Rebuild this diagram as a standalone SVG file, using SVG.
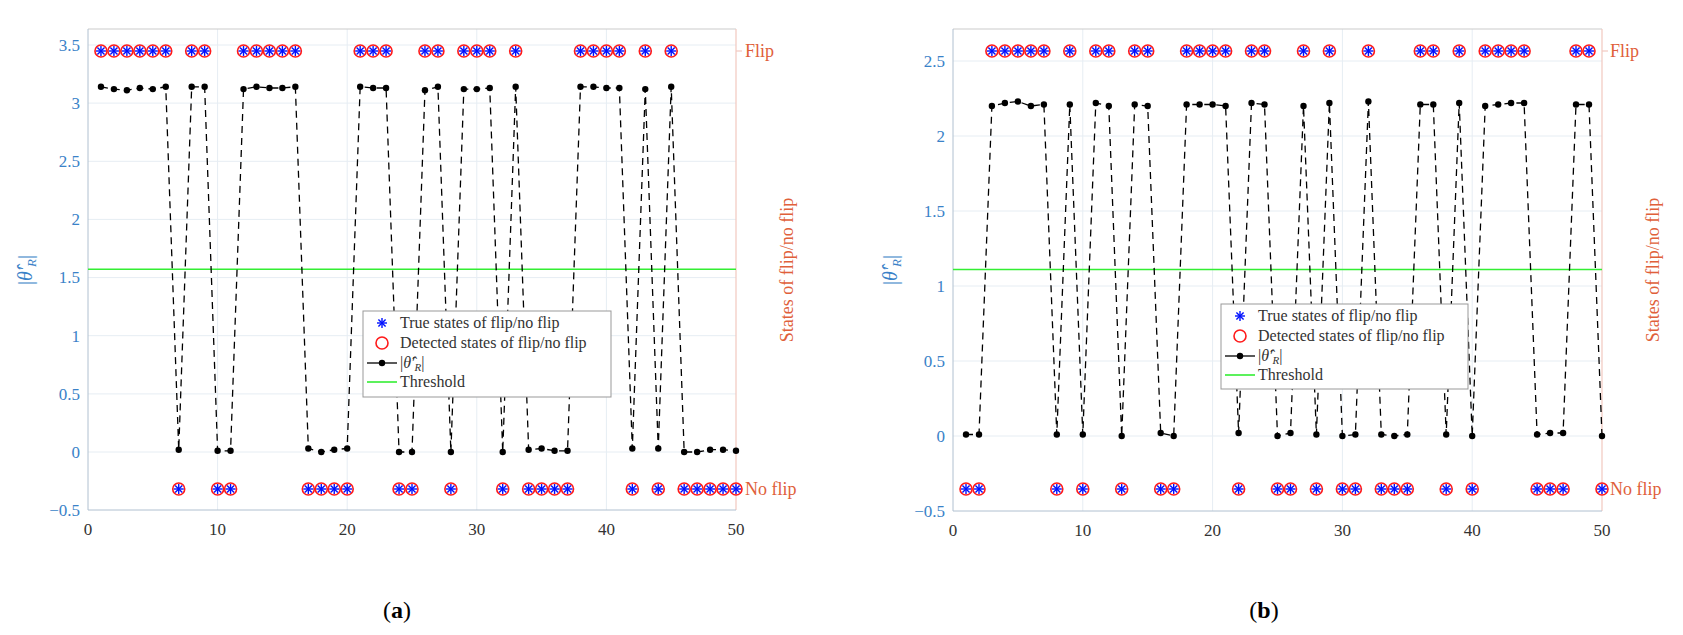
<svg xmlns="http://www.w3.org/2000/svg" width="1683" height="635" viewBox="0 0 1683 635" font-family="'Liberation Serif', 'DejaVu Serif', serif">
<style>
.yt,.xt,.rl,.lt,.cap,.yl{font-family:"Liberation Serif","DejaVu Serif",serif}
.grid{stroke:#e6edf3;stroke-width:1}
.ax{fill:none;stroke:#b0c0d0;stroke-width:1}
.rax{stroke:#f2c8bf;stroke-width:1.2}
.top{stroke:#cccccc;stroke-width:1.2}
.yt{font-size:17px;fill:#3a82c8;text-anchor:end}
.xt{font-size:17px;fill:#333;text-anchor:middle}
.rl{font-size:18px;fill:#e0603a}
.yl{font-size:20px;fill:#3a82c8;text-anchor:middle}
.data{fill:none;stroke:#000;stroke-width:1.3;stroke-dasharray:7 5;marker-start:url(#dot);marker-mid:url(#dot);marker-end:url(#dot)}
.thr{stroke:#33ee33;stroke-width:1.6}
.leg{fill:#fff;stroke:#999;stroke-width:1}
.lt{font-size:16px;fill:#333}
.cap{font-size:24px;fill:#000;text-anchor:middle}
</style>
<defs>
<marker id="dot" markerUnits="userSpaceOnUse" markerWidth="8" markerHeight="8" refX="4" refY="4"><circle cx="4" cy="4" r="3.2" fill="#000"/></marker>
<g id="mk">
<circle r="6" fill="none" stroke="#ff1a1a" stroke-width="1.6"/>
<g stroke="#0010ff" stroke-width="1.4"><line x1="-5" y1="0" x2="5" y2="0"/><line x1="0" y1="-5" x2="0" y2="5"/><line x1="-3.6" y1="-3.6" x2="3.6" y2="3.6"/><line x1="-3.6" y1="3.6" x2="3.6" y2="-3.6"/></g>
</g>
<g id="star" stroke="#0010ff" stroke-width="1.4"><line x1="-5" y1="0" x2="5" y2="0"/><line x1="0" y1="-5" x2="0" y2="5"/><line x1="-3.6" y1="-3.6" x2="3.6" y2="3.6"/><line x1="-3.6" y1="3.6" x2="3.6" y2="-3.6"/></g>
</defs>
<rect width="1683" height="635" fill="#fff"/>

<g id="plot-a">
<g class="grid">
<line x1="217.6" y1="29" x2="217.6" y2="510"/><line x1="347.2" y1="29" x2="347.2" y2="510"/><line x1="476.8" y1="29" x2="476.8" y2="510"/><line x1="606.4" y1="29" x2="606.4" y2="510"/>
<line x1="88" y1="45" x2="736" y2="45"/><line x1="88" y1="103.1" x2="736" y2="103.1"/><line x1="88" y1="161.3" x2="736" y2="161.3"/><line x1="88" y1="219.4" x2="736" y2="219.4"/><line x1="88" y1="277.6" x2="736" y2="277.6"/><line x1="88" y1="335.7" x2="736" y2="335.7"/><line x1="88" y1="393.9" x2="736" y2="393.9"/><line x1="88" y1="452" x2="736" y2="452"/>
</g>
<line class="top" x1="88" y1="29" x2="736" y2="29"/>
<line class="rax" x1="736" y1="29" x2="736" y2="510"/>
<line class="rax" x1="736" y1="51" x2="742" y2="51"/><line class="rax" x1="736" y1="489" x2="742" y2="489"/>
<polyline class="ax" points="88,29 88,510 736,510"/>
<g class="yt"><text x="80" y="51">3.5</text><text x="80" y="109">3</text><text x="80" y="167">2.5</text><text x="80" y="225">2</text><text x="80" y="283">1.5</text><text x="80" y="342">1</text><text x="80" y="400">0.5</text><text x="80" y="458">0</text><text x="80" y="516">−0.5</text></g>
<g class="xt"><text x="88" y="535">0</text><text x="217.6" y="535">10</text><text x="347.2" y="535">20</text><text x="476.8" y="535">30</text><text x="606.4" y="535">40</text><text x="736" y="535">50</text></g>
<text class="rl" x="745" y="57">Flip</text><text class="rl" x="745" y="495">No flip</text>
<text class="rl" transform="translate(793,270) rotate(-90)" text-anchor="middle">States of flip/no flip</text>
<text class="yl" transform="translate(32,270) rotate(-90)">|<tspan font-style="italic">θ̂′</tspan><tspan font-size="13" dy="4" font-style="italic">R</tspan><tspan dy="-4">|</tspan></text>
<line class="thr" x1="88" y1="269.3" x2="736" y2="269.3"/>
<polyline class="data" points="100.96,86.8 113.92,89.1 126.88,90.3 139.84,88 152.8,89.1 165.76,86.8 178.72,449.7 191.68,86.8 204.64,86.8 217.6,450.8 230.56,450.8 243.52,89.1 256.48,86.8 269.44,88 282.4,88 295.36,86.8 308.32,448.5 321.28,452 334.24,449.7 347.2,448.5 360.16,86.8 373.12,88 386.08,88 399.04,452 412,452 424.96,90.3 437.92,86.8 450.88,452 463.84,89.1 476.8,89.1 489.76,88 502.72,452 515.68,86.8 528.64,449.7 541.6,448.5 554.56,450.8 567.52,450.8 580.48,86.8 593.44,86.8 606.4,88 619.36,88 632.32,448.5 645.28,89.1 658.24,448.5 671.2,86.8 684.16,452 697.12,452 710.08,449.7 723.04,449.7 736,450.8"/>
<g>
<use href="#mk" x="100.96" y="51"/><use href="#mk" x="113.92" y="51"/><use href="#mk" x="126.88" y="51"/><use href="#mk" x="139.84" y="51"/><use href="#mk" x="152.8" y="51"/><use href="#mk" x="165.76" y="51"/><use href="#mk" x="178.72" y="489"/><use href="#mk" x="191.68" y="51"/><use href="#mk" x="204.64" y="51"/><use href="#mk" x="217.6" y="489"/>
<use href="#mk" x="230.56" y="489"/><use href="#mk" x="243.52" y="51"/><use href="#mk" x="256.48" y="51"/><use href="#mk" x="269.44" y="51"/><use href="#mk" x="282.4" y="51"/><use href="#mk" x="295.36" y="51"/><use href="#mk" x="308.32" y="489"/><use href="#mk" x="321.28" y="489"/><use href="#mk" x="334.24" y="489"/><use href="#mk" x="347.2" y="489"/>
<use href="#mk" x="360.16" y="51"/><use href="#mk" x="373.12" y="51"/><use href="#mk" x="386.08" y="51"/><use href="#mk" x="399.04" y="489"/><use href="#mk" x="412" y="489"/><use href="#mk" x="424.96" y="51"/><use href="#mk" x="437.92" y="51"/><use href="#mk" x="450.88" y="489"/><use href="#mk" x="463.84" y="51"/><use href="#mk" x="476.8" y="51"/>
<use href="#mk" x="489.76" y="51"/><use href="#mk" x="502.72" y="489"/><use href="#mk" x="515.68" y="51"/><use href="#mk" x="528.64" y="489"/><use href="#mk" x="541.6" y="489"/><use href="#mk" x="554.56" y="489"/><use href="#mk" x="567.52" y="489"/><use href="#mk" x="580.48" y="51"/><use href="#mk" x="593.44" y="51"/><use href="#mk" x="606.4" y="51"/>
<use href="#mk" x="619.36" y="51"/><use href="#mk" x="632.32" y="489"/><use href="#mk" x="645.28" y="51"/><use href="#mk" x="658.24" y="489"/><use href="#mk" x="671.2" y="51"/><use href="#mk" x="684.16" y="489"/><use href="#mk" x="697.12" y="489"/><use href="#mk" x="710.08" y="489"/><use href="#mk" x="723.04" y="489"/><use href="#mk" x="736" y="489"/>
</g>
<g id="legend-a">
<rect class="leg" x="363" y="311" width="248" height="86"/>
<use href="#star" x="382" y="323"/>
<circle cx="382" cy="343" r="6" fill="none" stroke="#ff1a1a" stroke-width="1.6"/>
<line x1="367" y1="363" x2="397" y2="363" stroke="#000" stroke-width="1.3"/><circle cx="382" cy="363" r="3.2"/>
<line class="thr" x1="367" y1="382" x2="397" y2="382"/>
<text class="lt" x="400" y="328">True states of flip/no flip</text>
<text class="lt" x="400" y="348">Detected states of flip/no flip</text>
<text class="lt" x="400" y="368">|<tspan font-style="italic">θ̂′</tspan><tspan font-size="11" dy="3" font-style="italic">R</tspan><tspan dy="-3">|</tspan></text>
<text class="lt" x="400" y="387">Threshold</text>
</g>
<text class="cap" x="397" y="618">(<tspan font-weight="bold">a</tspan>)</text>
</g>

<g id="plot-b">
<g class="grid">
<line x1="1082.8" y1="29" x2="1082.8" y2="511"/><line x1="1212.6" y1="29" x2="1212.6" y2="511"/><line x1="1342.4" y1="29" x2="1342.4" y2="511"/><line x1="1472.2" y1="29" x2="1472.2" y2="511"/>
<line x1="953" y1="61" x2="1602" y2="61"/><line x1="953" y1="136" x2="1602" y2="136"/><line x1="953" y1="211" x2="1602" y2="211"/><line x1="953" y1="286" x2="1602" y2="286"/><line x1="953" y1="361" x2="1602" y2="361"/><line x1="953" y1="436" x2="1602" y2="436"/>
</g>
<line class="top" x1="953" y1="29" x2="1602" y2="29"/>
<line class="rax" x1="1602" y1="29" x2="1602" y2="511"/>
<line class="rax" x1="1602" y1="51" x2="1608" y2="51"/><line class="rax" x1="1602" y1="489" x2="1608" y2="489"/>
<polyline class="ax" points="953,29 953,511 1602,511"/>
<g class="yt"><text x="945" y="67">2.5</text><text x="945" y="142">2</text><text x="945" y="217">1.5</text><text x="945" y="292">1</text><text x="945" y="367">0.5</text><text x="945" y="442">0</text><text x="945" y="517">−0.5</text></g>
<g class="xt"><text x="953" y="536">0</text><text x="1082.8" y="536">10</text><text x="1212.6" y="536">20</text><text x="1342.4" y="536">30</text><text x="1472.2" y="536">40</text><text x="1602" y="536">50</text></g>
<text class="rl" x="1610" y="57">Flip</text><text class="rl" x="1610" y="495">No flip</text>
<text class="rl" transform="translate(1659,270) rotate(-90)" text-anchor="middle">States of flip/no flip</text>
<text class="yl" transform="translate(897,270) rotate(-90)">|<tspan font-style="italic">θ̂′</tspan><tspan font-size="13" dy="4" font-style="italic">R</tspan><tspan dy="-4">|</tspan></text>
<line class="thr" x1="953" y1="269.5" x2="1602" y2="269.5"/>
<polyline class="data" points="966,434.5 979,434.5 991.9,106 1004.9,103 1017.9,101.5 1030.9,106 1043.9,104.5 1056.8,434.5 1069.8,104.5 1082.8,434.5 1095.8,103 1108.8,106 1121.7,436 1134.7,104.5 1147.7,106 1160.7,433 1173.7,436 1186.6,104.5 1199.6,104.5 1212.6,104.5 1225.6,106 1238.6,433 1251.5,103 1264.5,104.5 1277.5,436 1290.5,433 1303.5,106 1316.4,434.5 1329.4,103 1342.4,436 1355.4,434.5 1368.4,101.5 1381.3,434.5 1394.3,436 1407.3,434.5 1420.3,104.5 1433.3,104.5 1446.2,434.5 1459.2,103 1472.2,436 1485.2,106 1498.2,104.5 1511.1,103 1524.1,103 1537.1,434.5 1550.1,433 1563.1,433 1576,104.5 1589,104.5 1602,436"/>
<g>
<use href="#mk" x="966" y="489"/><use href="#mk" x="979" y="489"/><use href="#mk" x="991.9" y="51"/><use href="#mk" x="1004.9" y="51"/><use href="#mk" x="1017.9" y="51"/><use href="#mk" x="1030.9" y="51"/><use href="#mk" x="1043.9" y="51"/><use href="#mk" x="1056.8" y="489"/><use href="#mk" x="1069.8" y="51"/><use href="#mk" x="1082.8" y="489"/>
<use href="#mk" x="1095.8" y="51"/><use href="#mk" x="1108.8" y="51"/><use href="#mk" x="1121.7" y="489"/><use href="#mk" x="1134.7" y="51"/><use href="#mk" x="1147.7" y="51"/><use href="#mk" x="1160.7" y="489"/><use href="#mk" x="1173.7" y="489"/><use href="#mk" x="1186.6" y="51"/><use href="#mk" x="1199.6" y="51"/><use href="#mk" x="1212.6" y="51"/>
<use href="#mk" x="1225.6" y="51"/><use href="#mk" x="1238.6" y="489"/><use href="#mk" x="1251.5" y="51"/><use href="#mk" x="1264.5" y="51"/><use href="#mk" x="1277.5" y="489"/><use href="#mk" x="1290.5" y="489"/><use href="#mk" x="1303.5" y="51"/><use href="#mk" x="1316.4" y="489"/><use href="#mk" x="1329.4" y="51"/><use href="#mk" x="1342.4" y="489"/>
<use href="#mk" x="1355.4" y="489"/><use href="#mk" x="1368.4" y="51"/><use href="#mk" x="1381.3" y="489"/><use href="#mk" x="1394.3" y="489"/><use href="#mk" x="1407.3" y="489"/><use href="#mk" x="1420.3" y="51"/><use href="#mk" x="1433.3" y="51"/><use href="#mk" x="1446.2" y="489"/><use href="#mk" x="1459.2" y="51"/><use href="#mk" x="1472.2" y="489"/>
<use href="#mk" x="1485.2" y="51"/><use href="#mk" x="1498.2" y="51"/><use href="#mk" x="1511.1" y="51"/><use href="#mk" x="1524.1" y="51"/><use href="#mk" x="1537.1" y="489"/><use href="#mk" x="1550.1" y="489"/><use href="#mk" x="1563.1" y="489"/><use href="#mk" x="1576" y="51"/><use href="#mk" x="1589" y="51"/><use href="#mk" x="1602" y="489"/>
</g>
<g id="legend-b">
<rect class="leg" x="1221" y="304" width="247" height="85"/>
<use href="#star" x="1240" y="316"/>
<circle cx="1240" cy="336" r="6" fill="none" stroke="#ff1a1a" stroke-width="1.6"/>
<line x1="1225" y1="356" x2="1255" y2="356" stroke="#000" stroke-width="1.3"/><circle cx="1240" cy="356" r="3.2"/>
<line class="thr" x1="1225" y1="375" x2="1255" y2="375"/>
<text class="lt" x="1258" y="321">True states of flip/no flip</text>
<text class="lt" x="1258" y="341">Detected states of flip/no flip</text>
<text class="lt" x="1258" y="361">|<tspan font-style="italic">θ̂′</tspan><tspan font-size="11" dy="3" font-style="italic">R</tspan><tspan dy="-3">|</tspan></text>
<text class="lt" x="1258" y="380">Threshold</text>
</g>
<text class="cap" x="1264" y="618">(<tspan font-weight="bold">b</tspan>)</text>
</g>
</svg>
